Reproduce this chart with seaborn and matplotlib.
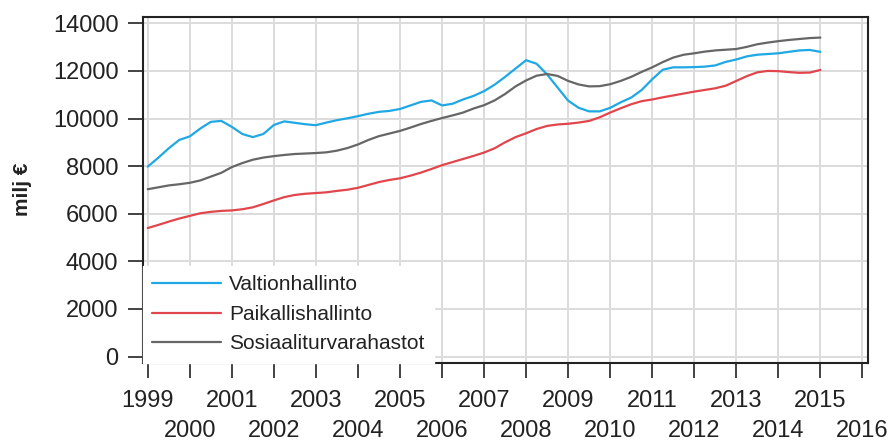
import matplotlib
matplotlib.use("Agg")
import matplotlib.pyplot as plt
import seaborn as sns
import numpy as np
import pandas as pd

# Quarterly x positions (1999.00 ... 2015.00)
quarters = [1999 + 0.25 * i for i in range(65)]

valtionhallinto = [
    7980, 8350, 8750, 9100, 9250, 9580, 9860, 9900,
    9650, 9350, 9220, 9350, 9730, 9880, 9820, 9760,
    9720, 9830, 9930, 10010, 10100, 10200, 10280, 10320,
    10400, 10550, 10700, 10760, 10550, 10620, 10800, 10950,
    11150, 11420, 11750, 12100, 12450, 12300, 11850, 11300,
    10750, 10450, 10300, 10300, 10450, 10680, 10880, 11200,
    11650, 12050, 12150, 12150, 12160, 12180, 12230, 12380,
    12480, 12610, 12680, 12710, 12740, 12800, 12860, 12880,
    12800,
]

paikallishallinto = [
    5400, 5530, 5670, 5800, 5910, 6020, 6080, 6120,
    6140, 6190, 6270, 6410, 6560, 6700, 6790, 6840,
    6870, 6900, 6960, 7010, 7090, 7210, 7330, 7420,
    7490, 7600, 7730, 7880, 8040, 8170, 8300, 8430,
    8570, 8750, 9000, 9220, 9380, 9560, 9690, 9750,
    9780, 9830, 9900, 10050, 10250, 10430, 10600, 10730,
    10800, 10890, 10970, 11050, 11130, 11200, 11270, 11380,
    11580, 11780, 11940, 12000, 11990, 11950, 11920, 11930,
    12040,
]

sosiaaliturvarahastot = [
    7030, 7110, 7190, 7240, 7300, 7400, 7560, 7720,
    7960, 8130, 8270, 8360, 8420, 8470, 8510, 8530,
    8550, 8580, 8650, 8760, 8910, 9100, 9260, 9370,
    9480, 9620, 9770, 9900, 10020, 10130, 10250, 10420,
    10560, 10760, 11030, 11350, 11600, 11800, 11870, 11790,
    11580, 11430, 11350, 11360, 11440, 11580, 11750, 11960,
    12150, 12370, 12560, 12680, 12740, 12810, 12860, 12890,
    12920, 13010, 13120, 13190, 13250, 13300, 13340, 13380,
    13400,
]

series_names = ["Valtionhallinto", "Paikallishallinto", "Sosiaaliturvarahastot"]
series_colors = ["#1fa8e3", "#e0464c", "#666666"]
year_ticks = list(range(1999, 2017))
y_ticks = [0, 2000, 4000, 6000, 8000, 10000, 12000, 14000]
y_label = "milj €"

df = pd.DataFrame({
    "x": quarters * 3,
    "value": valtionhallinto + paikallishallinto + sosiaaliturvarahastot,
    "series": [series_names[0]] * len(quarters)
              + [series_names[1]] * len(quarters)
              + [series_names[2]] * len(quarters),
})

sns.set_style("ticks")
plt.rcParams["font.family"] = ["Liberation Sans", "DejaVu Sans"]

fig = plt.figure(figsize=(8.92, 4.46), dpi=100)
ax = fig.add_axes([142.7 / 892, 1 - 362.7 / 446, (868.3 - 142.7) / 892, (362.7 - 16.7) / 446])

sns.lineplot(data=df, x="x", y="value", hue="series", hue_order=series_names,
             palette=series_colors, linewidth=1.6, ax=ax, legend=True)

ax.set_xlim(1998.88, 2016.14)
ax.set_ylim(-256, 14277)

ax.set_xticks(year_ticks)
ax.set_xticklabels([str(y) for y in year_ticks])
ax.set_yticks(y_ticks)
ax.set_yticklabels([str(v) for v in y_ticks])

ax.tick_params(axis="both", labelsize=17, length=10.5, width=1.2, color="#222222",
               labelcolor="#222222")
ax.tick_params(axis="x", pad=9)
ax.tick_params(axis="y", pad=7)

# stagger the year labels: even years on a second row
for tick, yr in zip(ax.xaxis.get_major_ticks(), year_ticks):
    if yr % 2 == 0:
        tick.set_pad(31)

ax.grid(True, color="#dcdcdc", linewidth=1.4)
ax.set_axisbelow(True)
for sp in ax.spines.values():
    sp.set_visible(True)
    sp.set_color("#222222")
    sp.set_linewidth(1.5)

ax.set_xlabel("")
ax.set_ylabel(y_label, fontsize=15, fontweight="bold", color="#222222")
ax.yaxis.set_label_coords(-0.152, 0.5)

leg = ax.legend(loc="lower left", bbox_to_anchor=(0, 0), borderaxespad=0,
                frameon=True, fontsize=15, handlelength=3.3, handletextpad=0.4,
                labelspacing=0.5, borderpad=0.45, fancybox=False)
leg.get_frame().set_facecolor("white")
leg.get_frame().set_edgecolor("white")
leg.get_frame().set_alpha(1.0)
for line in leg.get_lines():
    line.set_linewidth(1.6)
for t in leg.get_texts():
    t.set_color("#222222")

fig.savefig("out.png", dpi=100)
